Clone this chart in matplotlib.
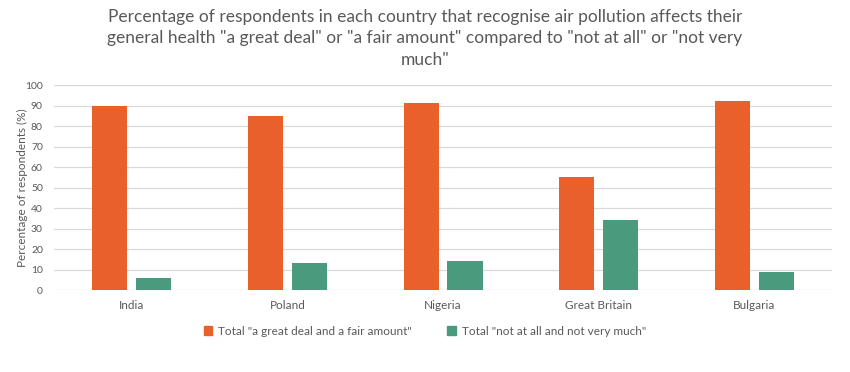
import numpy as np
import matplotlib.pyplot as plt
from matplotlib.patches import Patch

countries = ["India", "Poland", "Nigeria", "Great Britain", "Bulgaria"]
great_deal = [90, 85, 91, 55, 92]
not_at_all = [6, 13, 14, 34, 9]

ORANGE = "#E9602B"
GREEN = "#4A9A7D"
GREY = "#595959"

plt.rcParams['font.family'] = ['Lato', 'DejaVu Sans']

fig = plt.figure(figsize=(8.5, 3.72), dpi=100)
ax = fig.add_axes([0.0635, 0.2204, 0.9155, 0.5511])

x = np.arange(len(countries))
w = 0.225
off = 0.141
ax.bar(x - off, great_deal, w, color=ORANGE, zorder=3)
ax.bar(x + off, not_at_all, w, color=GREEN, zorder=3)

ax.set_xlim(-0.5, len(countries) - 0.5)
ax.set_ylim(0, 100)
ax.set_yticks(range(0, 101, 10))
ax.set_xticks(x)
ax.set_xticklabels(countries, fontsize=8.5, color=GREY)
ax.tick_params(axis='y', labelsize=7.5, colors=GREY, length=0, pad=8)
ax.tick_params(axis='x', length=0, pad=7)
ax.grid(axis='y', color="#D9D9D9", linewidth=0.9, zorder=0)
for s in ax.spines.values():
    s.set_visible(False)
ax.set_ylabel("Percentage of respondents (%)", fontsize=8.5, color=GREY, labelpad=-2)

fig.text(0.5, 0.975,
         'Percentage of respondents in each country that recognise air pollution affects their\n'
         'general health "a great deal" or "a fair amount" compared to "not at all" or "not very\n'
         'much"',
         ha='center', va='top', fontsize=12.5, color=GREY, linespacing=1.4)

handles = [Patch(color=ORANGE, label='Total "a great deal and a fair amount"'),
           Patch(color=GREEN, label='Total "not at all and not very much"')]
fig.legend(handles=handles, loc='center', bbox_to_anchor=(0.5, 0.11), ncol=2,
           frameon=False, fontsize=8.5, labelcolor=GREY, handlelength=0.7,
           handleheight=0.7, handletextpad=0.5, columnspacing=3)

fig.savefig("out.png", dpi=100, facecolor="white")
